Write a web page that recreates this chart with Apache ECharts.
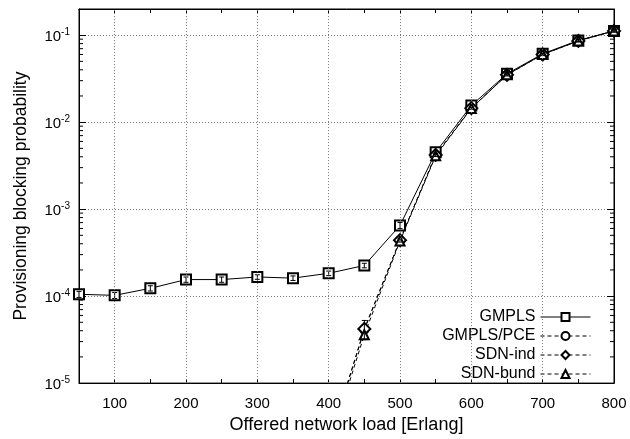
<!DOCTYPE html>
<html>
<head>
<meta charset="utf-8">
<script src="https://cdn.jsdelivr.net/npm/echarts@6/dist/echarts.min.js"></script>
<style>
  html, body { margin: 0; padding: 0; background: #fff; }
  #chart { width: 630px; height: 439px; }
</style>
</head>
<body>
<div id="chart"></div>
<script>
// offered load (Erlang)
var loads = [50, 100, 150, 200, 250, 300, 350, 400, 450, 500, 550, 600, 650, 700, 750, 800];
// blocking probabilities
var gmpls = [1.05e-4, 1.02e-4, 1.23e-4, 1.55e-4, 1.55e-4, 1.66e-4, 1.61e-4, 1.83e-4, 2.25e-4, 6.5e-4, 4.5e-3, 1.55e-2, 3.6e-2, 6.1e-2, 8.7e-2, 1.12e-1];
var gmplsPce = [null, null, null, null, null, null, null, 2.0e-6, 4.1e-5, 4.4e-4, 4.2e-3, 1.45e-2, 3.5e-2, 6.0e-2, 8.6e-2, 1.12e-1];
var sdnInd = [null, null, null, null, null, null, null, 2.0e-6, 4.2e-5, 4.4e-4, 4.2e-3, 1.45e-2, 3.5e-2, 6.0e-2, 8.6e-2, 1.12e-1];
var sdnBund = [null, null, null, null, null, null, null, 1.8e-6, 3.6e-5, 4.3e-4, 4.1e-3, 1.44e-2, 3.5e-2, 6.0e-2, 8.6e-2, 1.12e-1];
// relative error bar half-widths
var gmplsErr = [0.08, 0.08, 0.07, 0.07, 0.07, 0.06, 0.06, 0.06, 0.06, 0.08, 0.05, 0.04, 0.03, 0.03, 0.03, 0.03];
var sdnErr = [null, null, null, null, null, null, null, null, 0.25, 0.05, 0.04, 0.03, 0.03, 0.03, 0.03, 0.03];
var xTicks = [100, 200, 300, 400, 500, 600, 700];
var minorY = [];
[1e-5, 1e-4, 1e-3, 1e-2, 1e-1].forEach(function (d) {
  for (var m = 2; m <= 9; m++) {
    if (m * d < 0.2) minorY.push(+(m * d).toPrecision(2));
  }
});

var myChart = echarts.init(document.getElementById('chart'));

function pairs(vals) {
  return loads.map(function (x, i) { return [x, vals[i] == null ? '-' : vals[i]]; });
}
function errData(vals, errs) {
  var out = [];
  loads.forEach(function (x, i) {
    if (vals[i] != null && errs[i] != null) out.push([x, vals[i] * (1 - errs[i]), vals[i] * (1 + errs[i])]);
  });
  return out;
}
function renderErr(params, api) {
  var lo = api.coord([api.value(0), api.value(1)]);
  var hi = api.coord([api.value(0), api.value(2)]);
  var w = 2.5;
  return {
    type: 'group',
    children: [
      { type: 'line', shape: { x1: lo[0], y1: lo[1], x2: hi[0], y2: hi[1] }, style: { stroke: '#000', lineWidth: 1 } },
      { type: 'line', shape: { x1: lo[0] - w, y1: lo[1], x2: lo[0] + w, y2: lo[1] }, style: { stroke: '#000', lineWidth: 1 } },
      { type: 'line', shape: { x1: hi[0] - w, y1: hi[1], x2: hi[0] + w, y2: hi[1] }, style: { stroke: '#000', lineWidth: 1 } }
    ]
  };
}
function renderMinor(params, api) {
  var l = api.coord([50, api.value(1)]);
  var r = api.coord([800, api.value(1)]);
  return {
    type: 'group',
    children: [
      { type: 'line', shape: { x1: l[0], y1: l[1], x2: l[0] + 4, y2: l[1] }, style: { stroke: '#000', lineWidth: 1 } },
      { type: 'line', shape: { x1: r[0] - 4, y1: r[1], x2: r[0], y2: r[1] }, style: { stroke: '#000', lineWidth: 1 } }
    ]
  };
}

var font = 'Liberation Sans, Arial, sans-serif';
var lineSeries = function (name, data, symbol, size, dashed) {
  return {
    name: name,
    type: 'line',
    data: pairs(data),
    symbol: symbol,
    symbolSize: size,
    showSymbol: true,
    z: 3,
    lineStyle: { color: '#000', width: 1, type: dashed ? [4, 3] : 'solid' },
    itemStyle: { color: '#000', borderColor: '#000', borderWidth: 1 },
    animation: false
  };
};

var option = {
  animation: false,
  textStyle: { fontFamily: font },
  grid: { left: 79, right: 16, top: 9, bottom: 52, show: true, borderColor: '#000', borderWidth: 1 },
  legend: {
    data: ['GMPLS', 'GMPLS/PCE', 'SDN-ind', 'SDN-bund'],
    orient: 'vertical',
    align: 'right',
    right: 34,
    top: 303,
    itemWidth: 50,
    itemHeight: 10,
    itemGap: 1,
    itemStyle: { borderWidth: 1 },
    lineStyle: { width: 1 },
    textStyle: { fontFamily: font, fontSize: 16, color: '#000', lineHeight: 18 }
  },
  xAxis: [
    {
      type: 'value', min: 50, max: 800, interval: 50,
      name: 'Offered network load [Erlang]', nameLocation: 'middle', nameGap: 31,
      nameTextStyle: { fontFamily: font, fontSize: 18, color: '#000' },
      axisLine: { lineStyle: { color: '#000' } },
      axisTick: { inside: true, length: 4, lineStyle: { color: '#000' } },
      axisLabel: {
        color: '#000', fontFamily: font, fontSize: 15, margin: 13,
        formatter: function (v) { return v % 100 === 0 ? String(v) : ''; }
      },
      splitLine: { show: false }
    },
    {
      type: 'value', min: 50, max: 800, interval: 50, position: 'top',
      axisLine: { lineStyle: { color: '#000' } },
      axisTick: { inside: true, length: 4, lineStyle: { color: '#000' } },
      axisLabel: { show: false },
      splitLine: { show: false }
    }
  ],
  yAxis: [
    {
      type: 'log', logBase: 10, min: 1e-5, max: 0.2, splitNumber: 5,
      name: 'Provisioning blocking probability', nameLocation: 'middle', nameGap: 49,
      nameTextStyle: { fontFamily: font, fontSize: 17.5, color: '#000' },
      axisLine: { lineStyle: { color: '#000' } },
      axisTick: { inside: true, length: 7, lineStyle: { color: '#000' } },
      axisLabel: {
        showMaxLabel: false, margin: 9,
        formatter: function (v) {
          return '{b|10}{s|' + Math.round(Math.log10(v)) + '}';
        },
        rich: {
          b: { fontFamily: font, fontSize: 15, color: '#000', padding: [4, 0, 0, 0] },
          s: { fontFamily: font, fontSize: 10, color: '#000', padding: [0, 0, 6, 0] }
        }
      },
      splitLine: { show: true, lineStyle: { color: '#777', type: [1, 2], width: 1 } }
    },
    {
      type: 'log', logBase: 10, min: 1e-5, max: 0.2, splitNumber: 5, position: 'right',
      axisLine: { lineStyle: { color: '#000' } },
      axisTick: { inside: true, length: 7, lineStyle: { color: '#000' } },
      axisLabel: { show: false },
      splitLine: { show: false }
    }
  ],
  series: [
    {
      name: 'grid-x',
      type: 'line',
      data: [],
      markLine: {
        silent: true, symbol: 'none', label: { show: false },
        lineStyle: { color: '#777', type: [1, 2], width: 1 },
        data: xTicks.map(function (v) { return { xAxis: v }; })
      }
    },
    {
      name: 'minor',
      type: 'custom',
      renderItem: renderMinor,
      data: minorY.map(function (v) { return [50, v]; }),
      encode: { x: 0, y: 1 },
      silent: true,
      z: 1
    },
    lineSeries('GMPLS', gmpls, 'emptyRect', 10, false),
    lineSeries('GMPLS/PCE', gmplsPce, 'emptyCircle', 8, true),
    lineSeries('SDN-ind', sdnInd, 'emptyDiamond', 12, true),
    lineSeries('SDN-bund', sdnBund, 'emptyTriangle', 9, true),
    {
      name: 'err-gmpls',
      type: 'custom',
      renderItem: renderErr,
      data: errData(gmpls, gmplsErr),
      encode: { x: 0, y: [1, 2] },
      silent: true,
      z: 4
    },
    {
      name: 'err-sdn',
      type: 'custom',
      renderItem: renderErr,
      data: errData(sdnInd, sdnErr),
      encode: { x: 0, y: [1, 2] },
      silent: true,
      z: 4
    }
  ]
};

myChart.setOption(option, true);
</script>
</body>
</html>
